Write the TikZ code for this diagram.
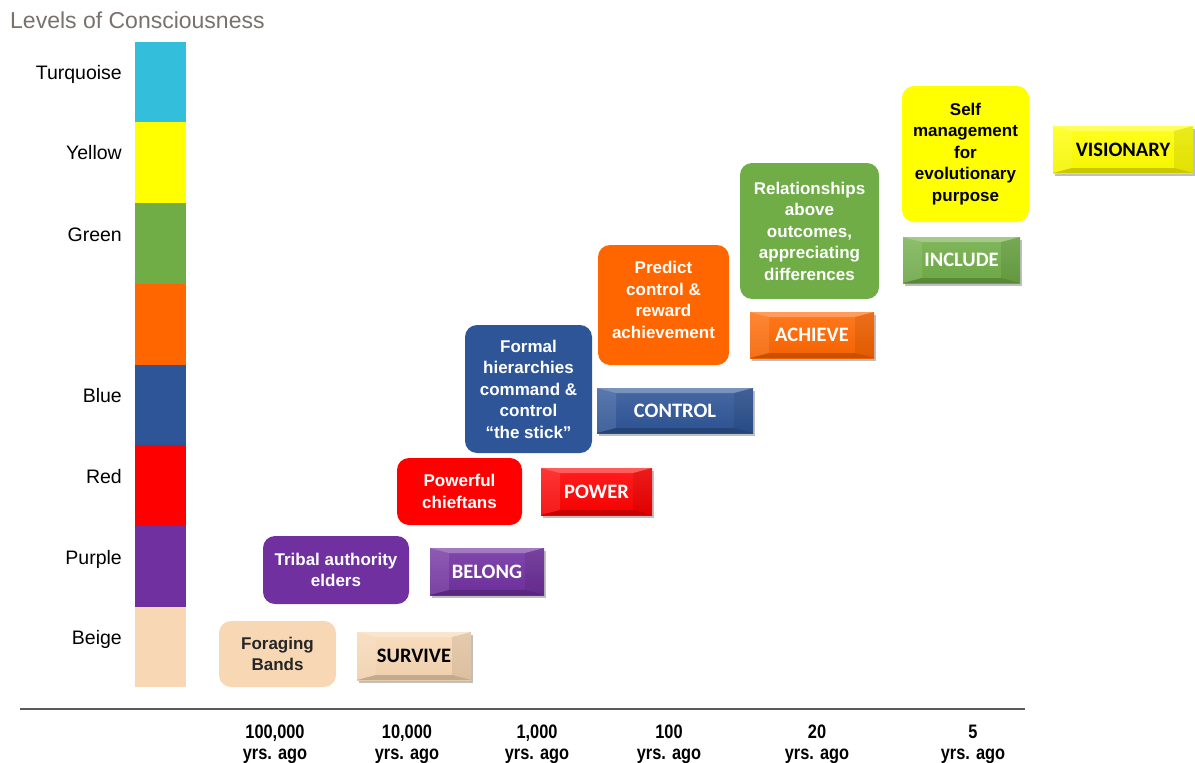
\documentclass[tikz,border=0pt]{standalone}
\usepackage{fontspec}
\setmainfont{Liberation Sans}
\newfontfamily\btnfont{Carlito}
\newfontfamily\narrowfont[FakeStretch=0.84]{Liberation Sans}
\usetikzlibrary{shadows}
\definecolor{turqC}{HTML}{33BEDB}
\definecolor{yellowC}{HTML}{FFFF00}
\definecolor{greenC}{HTML}{70AD47}
\definecolor{orangeC}{HTML}{FF6600}
\definecolor{blueC}{HTML}{2E5597}
\definecolor{redC}{HTML}{FF0000}
\definecolor{purpleC}{HTML}{7030A0}
\definecolor{beigeC}{HTML}{F8D8B4}
\definecolor{titleC}{RGB}{120,113,110}
\definecolor{axisC}{RGB}{90,90,90}
\begin{document}
\begin{tikzpicture}[x=1pt,y=-1pt,
  lvl/.style={anchor=base east, inner sep=0pt, font=\fontsize{19.5}{22}\selectfont},
  rbox/.style={rounded corners=12pt, draw=none, inner sep=2pt, align=center,
    text=white, font=\bfseries\fontsize{17}{21.5}\selectfont},
  btn/.style={draw=none, inner sep=0pt, top color=#1!88!white, bottom color=#1!96!black,
    font=\btnfont\bfseries\fontsize{20.5}{22}\selectfont, text=white,
    drop shadow={shadow xshift=2pt, shadow yshift=-3pt, opacity=0.25, fill=black},
    path picture={
      \fill[white,opacity=0.28] (path picture bounding box.north west) -- (path picture bounding box.north east)
        -- ([xshift=-19pt,yshift=-5pt]path picture bounding box.north east) -- ([xshift=19pt,yshift=-5pt]path picture bounding box.north west) -- cycle;
      \fill[white,opacity=0.10] (path picture bounding box.north west) -- ([xshift=19pt,yshift=-5pt]path picture bounding box.north west)
        -- ([xshift=19pt,yshift=5pt]path picture bounding box.south west) -- (path picture bounding box.south west) -- cycle;
      \fill[black,opacity=0.08] (path picture bounding box.north east) -- ([xshift=-19pt,yshift=-5pt]path picture bounding box.north east)
        -- ([xshift=-19pt,yshift=5pt]path picture bounding box.south east) -- (path picture bounding box.south east) -- cycle;
      \fill[black,opacity=0.18] (path picture bounding box.south west) -- ([xshift=19pt,yshift=5pt]path picture bounding box.south west)
        -- ([xshift=-19pt,yshift=5pt]path picture bounding box.south east) -- (path picture bounding box.south east) -- cycle;
    }},
  axl/.style={anchor=base, inner sep=0pt, font=\narrowfont\bfseries\fontsize{19.5}{21}\selectfont}
]
\useasboundingbox (0,0) rectangle (1195,763);

% title
\node[anchor=base west, inner sep=0pt, text=titleC, font=\fontsize{23}{26}\selectfont] (title) at (10,28.5) {Levels of Consciousness};

% colour column
\fill[turqC]   (135,42)  rectangle (186,122.5);
\fill[yellowC] (135,122) rectangle (186,203.5);
\fill[greenC]  (135,203) rectangle (186,284.5);
\fill[orangeC] (135,284) rectangle (186,365.5);
\fill[blueC]   (135,365) rectangle (186,445.5);
\fill[redC]    (135,445) rectangle (186,526.5);
\fill[purpleC] (135,526) rectangle (186,607.5);
\fill[beigeC]  (135,607) rectangle (186,687);

% level labels
\node[lvl] (lTurq)   at (122,79)  {Turquoise};
\node[lvl] (lYellow) at (122,159) {Yellow};
\node[lvl] (lGreen)  at (122,241) {Green};
\node[lvl] (lBlue)   at (122,402) {Blue};
\node[lvl] (lRed)    at (122,483) {Red};
\node[lvl] (lPurple) at (122,564) {Purple};
\node[lvl] (lBeige)  at (122,644) {Beige};

% rounded description boxes
\node[rbox, fill=beigeC, text=black!85, minimum width=117pt, minimum height=66pt] (forage) at (277.5,654) {Foraging\\Bands};
\node[rbox, fill=purpleC, minimum width=146pt, minimum height=68pt] (tribal) at (336,570) {Tribal authority\\elders};
\node[rbox, fill=redC, minimum width=125pt, minimum height=67pt] (chief) at (459.5,491.5) {Powerful\\chieftans};
\node[rbox, fill=blueC, minimum width=127pt, minimum height=128pt] (formal) at (528.5,389) {Formal\\hierarchies\\command \&\\control\\``the stick''};
\node[rbox, fill=orangeC, minimum width=131pt, minimum height=120pt] (predict) at (663.5,305) {Predict\\control \&\\reward\\achievement\\[-11.5pt]};
\node[rbox, fill=greenC, minimum width=139pt, minimum height=136pt] (relat) at (809.5,231) {Relationships\\above\\outcomes,\\appreciating\\differences};
\node[rbox, fill=yellowC, text=black, minimum width=127pt, minimum height=136pt] (selfm) at (965.5,154) {Self\\management\\for\\evolutionary\\purpose};

% bevelled buttons
\node[btn=beigeC, text=black, minimum width=114pt, minimum height=48pt] (survive) at (414,656) {SURVIVE};
\node[btn=purpleC, minimum width=114pt, minimum height=47pt] (belong) at (487,571.5) {BELONG};
\node[btn=redC, minimum width=111pt, minimum height=47pt] (power) at (596.5,491.5) {POWER};
\node[btn=blueC, minimum width=156pt, minimum height=45pt] (control) at (675,410.5) {CONTROL};
\node[btn=orangeC, minimum width=124pt, minimum height=46pt] (achieve) at (812,335) {ACHIEVE};
\node[btn=greenC, minimum width=117pt, minimum height=46pt] (include) at (961.5,260) {INCLUDE};
\node[btn=yellowC, text=black, minimum width=140pt, minimum height=47pt] (visionary) at (1123,149.5) {VISIONARY};

% axis
\coordinate (axL) at (20,709);
\coordinate (axR) at (1025,709);
\draw[axisC, line width=1.3pt] (axL) -- (axR);

\node[axl] (t1a) at (275,738) {100,000};
\node[axl] (t1b) at (275,759) {yrs. ago};
\node[axl] (t2a) at (407,738) {10,000};
\node[axl] (t2b) at (407,759) {yrs. ago};
\node[axl] (t3a) at (537,738) {1,000};
\node[axl] (t3b) at (537,759) {yrs. ago};
\node[axl] (t4a) at (669,738) {100};
\node[axl] (t4b) at (669,759) {yrs. ago};
\node[axl] (t5a) at (817,738) {20};
\node[axl] (t5b) at (817,759) {yrs. ago};
\node[axl] (t6a) at (973,738) {5};
\node[axl] (t6b) at (973,759) {yrs. ago};
\end{tikzpicture}
\end{document}
